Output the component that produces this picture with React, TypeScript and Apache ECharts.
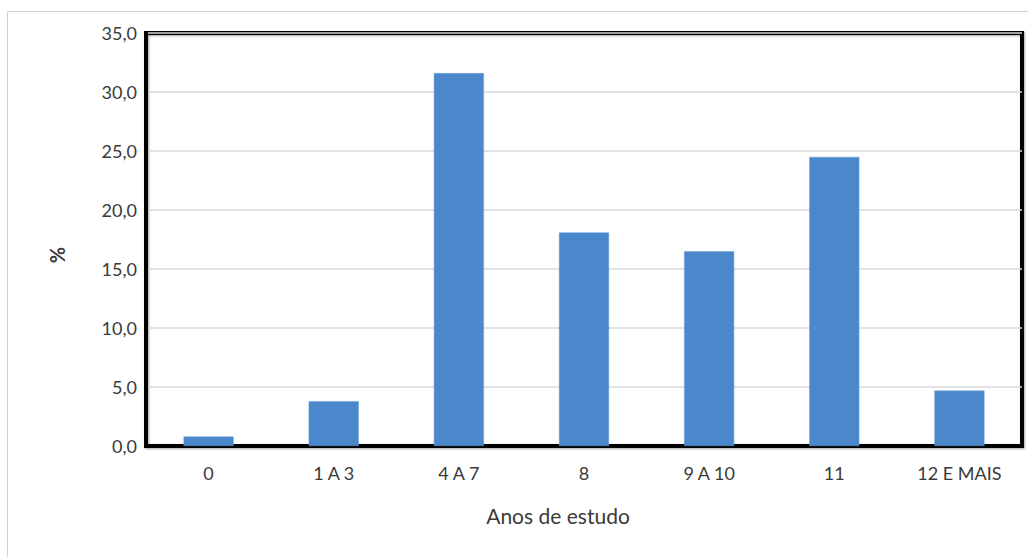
import React, { useEffect, useRef } from "react";
import * as echarts from "echarts";

const categories = ["0", "1 A 3", "4 A 7", "8", "9 A 10", "11", "12 E MAIS"];
const values = [0.8, 3.8, 31.6, 18.1, 16.5, 24.5, 4.7];
const xTitle = "Anos de estudo";
const yTitle = "%";

export default function App() {
  const ref = useRef<HTMLDivElement>(null);
  useEffect(() => {
    document.body.style.margin = "0";
    const chart = echarts.init(ref.current!, null, { renderer: "svg" });
    const font = "Lato, 'Open Sans', sans-serif";
    chart.setOption({
      animation: false,
      backgroundColor: "#fff",
      graphic: [
        {
          type: "rect",
          shape: { x: 7.5, y: 11.5, width: 1040, height: 560 },
          style: { fill: "none", stroke: "#d4d4d4", lineWidth: 1 },
          silent: true,
        },
        {
          type: "text",
          x: 558,
          y: 515,
          style: {
            text: xTitle,
            fontFamily: font,
            fontSize: 21,
            fill: "#3a3a3a",
            align: "center",
            verticalAlign: "middle",
          },
        },
        {
          type: "text",
          x: 57,
          y: 255,
          rotation: Math.PI / 2,
          style: {
            text: yTitle,
            fontFamily: font,
            fontSize: 20,
            fontWeight: "bold",
            fill: "#3a3a3a",
            align: "center",
            verticalAlign: "middle",
          },
        },
      ],
      grid: {
        left: 146,
        right: 6,
        top: 33,
        bottom: 111,
        show: true,
        borderColor: "#000",
        borderWidth: 4,
        shadowColor: "rgba(0,0,0,0.35)",
        shadowBlur: 2,
        shadowOffsetX: 1,
        shadowOffsetY: 1,
      },
      xAxis: {
        type: "category",
        data: categories,
        axisLine: { show: true, lineStyle: { color: "#000", width: 4 } },
        axisTick: { show: false },
        axisLabel: { fontFamily: font, fontSize: 18, color: "#3a3a3a", margin: 18 },
      },
      yAxis: {
        type: "value",
        min: 0,
        max: 35,
        interval: 5,
        axisLine: { show: true, lineStyle: { color: "#000", width: 4 } },
        axisTick: { show: false },
        splitLine: { lineStyle: { color: "#d9d9d9", width: 1.5 } },
        axisLabel: {
          fontFamily: font,
          fontSize: 18,
          color: "#3a3a3a",
          margin: 9,
          formatter: (v: number) => v.toFixed(1).replace(".", ","),
        },
      },
      series: [
        {
          type: "bar",
          data: values,
          barWidth: "40%",
          itemStyle: { color: "#4a88cb", borderColor: "#6a9fd6", borderWidth: 0.5 },
        },
      ],
    });
    return () => chart.dispose();
  }, []);
  return <div ref={ref} style={{ width: 1028, height: 557 }} />;
}
